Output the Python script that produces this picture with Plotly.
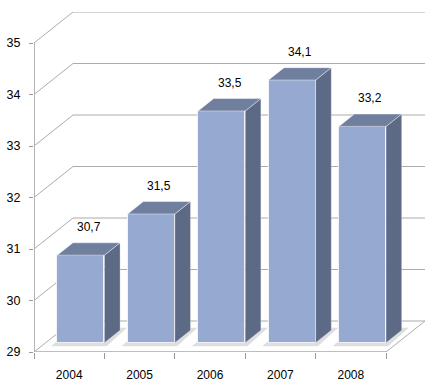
import plotly.graph_objects as go

# ---- data ----
years = ["2004", "2005", "2006", "2007", "2008"]
values = [30.7, 31.5, 33.5, 34.1, 33.2]
labels = ["30,7", "31,5", "33,5", "34,1", "33,2"]
y_ticks = [29, 30, 31, 32, 33, 34, 35]

# ---- 3D projection settings (in axis units) ----
DEPTH_X = 0.554   # horizontal shift of the back wall, in category units
DEPTH_Y = 0.602   # vertical shift of the back wall, in value units
BAR_D0, BAR_D1 = 0.30, 0.70   # bar depth extent (fraction of full depth)
BAR_W = 0.67
YMIN, YMAX = y_ticks[0], y_ticks[-1]
n = len(years)
x_left, x_right = -0.5, n - 0.5

GRID = "#ABABAB"
FRONT = "#95A9D1"
SIDE = "#5D6A86"
TOP = "#707F9E"
FONT = "Liberation Sans"

fig = go.Figure()
shapes = []

# back wall gridlines + diagonal connectors
for v in y_ticks:
    shapes.append(dict(type="line", layer="below",
                       x0=x_left + DEPTH_X, x1=x_right + DEPTH_X,
                       y0=v + DEPTH_Y, y1=v + DEPTH_Y,
                       line=dict(color=GRID, width=1)))
    shapes.append(dict(type="line", layer="below",
                       x0=x_left, x1=x_left + DEPTH_X,
                       y0=v, y1=v + DEPTH_Y,
                       line=dict(color=GRID, width=1)))
# floor right edge
shapes.append(dict(type="line", layer="below",
                   x0=x_right, x1=x_right + DEPTH_X,
                   y0=YMIN, y1=YMIN + DEPTH_Y,
                   line=dict(color=GRID, width=1)))
# floor front edge
shapes.append(dict(type="line", layer="below",
                   x0=x_left, x1=x_right, y0=YMIN, y1=YMIN,
                   line=dict(color="#BDBDBD", width=2)))
# front value axis line
shapes.append(dict(type="line", layer="below",
                   x0=x_left, x1=x_left, y0=YMIN, y1=YMAX,
                   line=dict(color="#B5B5B5", width=2)))

fx0, fy0 = BAR_D0 * DEPTH_X, BAR_D0 * DEPTH_Y
ddx, ddy = (BAR_D1 - BAR_D0) * DEPTH_X, (BAR_D1 - BAR_D0) * DEPTH_Y

# floor shadows
for i, v in enumerate(values):
    xl = i + fx0 - BAR_W / 2
    xr = i + fx0 + BAR_W / 2
    b = YMIN + fy0
    sx0, sy0 = xl - 0.09, b - 0.07
    shapes.append(dict(type="path", layer="below",
                       path=f"M {sx0},{sy0} L {xr + 0.03},{sy0} L {xr + ddx + 0.1},{b + ddy + 0.05} "
                            f"L {xl + ddx},{b + ddy + 0.05} Z",
                       fillcolor="rgba(0,0,0,0.13)", line=dict(width=0)))

# front faces as bars
fig.add_trace(go.Bar(
    x=[i + fx0 for i in range(n)],
    y=[v - YMIN for v in values],
    base=YMIN + fy0,
    width=BAR_W,
    marker=dict(color=FRONT, line=dict(color="rgba(255,255,255,0.75)", width=1)),
    hoverinfo="skip", showlegend=False))

# side and top faces
for i, v in enumerate(values):
    xl = i + fx0 - BAR_W / 2
    xr = i + fx0 + BAR_W / 2
    b = YMIN + fy0
    t = v + fy0
    fig.add_trace(go.Scatter(
        x=[xr, xr + ddx, xr + ddx, xr, xr],
        y=[b, b + ddy, t + ddy, t, b],
        mode="lines", fill="toself", fillcolor=SIDE,
        line=dict(color="rgba(255,255,255,0.35)", width=0.8),
        hoverinfo="skip", showlegend=False))
    fig.add_trace(go.Scatter(
        x=[xl, xr, xr + ddx, xl + ddx, xl],
        y=[t, t, t + ddy, t + ddy, t],
        mode="lines", fill="toself", fillcolor=TOP,
        line=dict(color="rgba(255,255,255,0.55)", width=0.8),
        hoverinfo="skip", showlegend=False))

annotations = []
for i, (v, lab) in enumerate(zip(values, labels)):
    annotations.append(dict(
        x=i + 0.5 * DEPTH_X, y=v + BAR_D1 * DEPTH_Y,
        text=lab, showarrow=False, yanchor="middle", yshift=16,
        font=dict(family=FONT, size=12, color="#000000")))

fig.update_layout(
    width=440, height=389, autosize=False,
    margin=dict(l=34, r=15, t=12, b=37, pad=0),
    paper_bgcolor="white", plot_bgcolor="white",
    shapes=shapes, annotations=annotations,
    bargap=0,
    xaxis=dict(range=[x_left, x_right + DEPTH_X], tickmode="array",
               tickvals=list(range(n)), ticktext=years, automargin=False,
               ticks="", showgrid=False, zeroline=False, showline=False,
               ticklabelstandoff=14,
               tickfont=dict(family=FONT, size=12, color="#000000"),
               minor=dict(tickmode="array",
                          tickvals=[k - 0.5 for k in range(n + 1)],
                          ticks="outside", ticklen=6, tickcolor="#9A9A9A",
                          tickwidth=1, showgrid=False)),
    yaxis=dict(range=[YMIN, YMAX + DEPTH_Y], tickmode="array",
               tickvals=y_ticks, ticktext=[str(v) for v in y_ticks],
               ticks="outside", ticklen=4, tickcolor="#9A9A9A", automargin=False,
               showgrid=False, zeroline=False, showline=False,
               ticklabelstandoff=6,
               tickfont=dict(family=FONT, size=12.5, color="#000000")),
)

fig.write_html("out.html", config={"displayModeBar": False})

# remove the default page margin so the figure sits at the window origin
with open("out.html", "r", encoding="utf-8") as f:
    html = f.read()
html = html.replace("<head>", "<head><style>html,body{margin:0;padding:0;overflow:hidden;}</style>", 1)
with open("out.html", "w", encoding="utf-8") as f:
    f.write(html)
